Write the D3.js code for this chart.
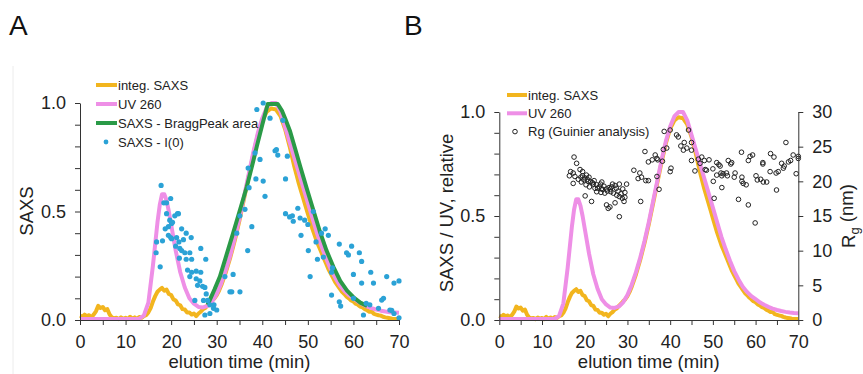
<!DOCTYPE html>
<html>
<head>
<meta charset="utf-8">
<script src="https://cdn.jsdelivr.net/npm/d3@7"></script>
<style>
  body { margin: 0; background: #fff; }
  svg { font-family: "Liberation Sans", Arial, sans-serif; }
  .axis path, .axis line { stroke: #333; stroke-width: 1; }
  .axis text { font-size: 18px; fill: #222; }
</style>
</head>
<body>
<div id="chart"></div>
<script>
// integrated SAXS intensity, [time (min), relative]
const saxsInteg = [
  [0,0.02],[0.5,0.015],[1,0.025],[1.5,0.018],[2,0.022],[2.5,0.012],[3,0.025],[3.5,0.04],[4,0.065],[4.5,0.055],
  [5,0.06],[5.5,0.045],[6,0.05],[6.5,0.025],[7,0.012],[7.5,0.008],[8,0.01],[8.5,0.004],[9,0.012],[9.5,0.006],
  [10,0.01],[10.5,0.004],[11,0.015],[11.5,0.006],[12,0.012],[12.5,0.005],[13,0.014],[13.5,0.01],[14,0.018],[14.5,0.022],
  [15,0.035],[15.5,0.055],[16,0.085],[16.5,0.11],[17,0.13],[17.5,0.14],[18,0.148],[18.5,0.135],[19,0.14],[19.5,0.12],
  [20,0.115],[20.5,0.095],[21,0.09],[21.5,0.072],[22,0.068],[22.5,0.05],[23,0.048],[23.5,0.035],[24,0.035],[24.5,0.025],
  [25,0.03],[25.5,0.018],[26,0.03],[26.5,0.038],[27,0.05],[27.5,0.055],[28,0.068],[28.5,0.078],[29,0.09],[29.5,0.1],
  [30,0.115],[30.5,0.135],[31,0.16],[31.5,0.19],[32,0.22],[32.5,0.255],[33,0.29],[33.5,0.33],[34,0.37],[34.5,0.415],
  [35,0.46],[35.5,0.51],[36,0.56],[36.5,0.61],[37,0.66],[37.5,0.71],[38,0.76],[38.5,0.805],[39,0.85],[39.5,0.885],
  [40,0.92],[40.5,0.94],[41,0.96],[41.5,0.968],[42,0.975],[42.5,0.972],[43,0.97],[43.5,0.955],[44,0.94],[44.5,0.91],
  [45,0.88],[45.5,0.84],[46,0.8],[46.5,0.755],[47,0.71],[47.5,0.67],[48,0.63],[48.5,0.595],[49,0.56],[49.5,0.525],
  [50,0.49],[50.5,0.455],[51,0.42],[51.5,0.39],[52,0.36],[52.5,0.335],[53,0.31],[53.5,0.285],[54,0.26],[54.5,0.235],
  [55,0.215],[55.5,0.195],[56,0.175],[56.5,0.16],[57,0.145],[57.5,0.13],[58,0.12],[58.5,0.108],[59,0.1],[59.5,0.09],
  [60,0.085],[60.5,0.075],[61,0.07],[61.5,0.062],[62,0.058],[62.5,0.05],[63,0.045],[63.5,0.038],[64,0.04],[64.5,0.028],
  [65,0.025],[65.5,0.022],[66,0.02],[66.5,0.015],[67,0.012],[67.5,0.01],[68,0.008],[68.5,0.006],[69,0.005],[70,0.005]
];

// UV absorbance at 260 nm
const uv260 = [
  [0,0.005],[5,0.005],[10,0.005],[13,0.006],[14,0.02],[15,0.08],[16,0.25],[17,0.45],[17.5,0.53],[18,0.58],
  [18.5,0.58],[19,0.55],[19.5,0.5],[20,0.44],[21,0.32],[22,0.22],[23,0.15],[24,0.1],[25,0.075],[26,0.06],
  [27,0.058],[28,0.065],[29,0.085],[30,0.12],[31,0.17],[32,0.23],[33,0.3],[34,0.38],[35,0.47],[36,0.57],
  [37,0.67],[38,0.77],[39,0.86],[40,0.93],[41,0.98],[42,1.0],[43,1.0],[44,0.96],[45,0.89],[46,0.82],
  [47,0.75],[48,0.68],[49,0.61],[50,0.54],[51,0.47],[52,0.4],[53,0.34],[54,0.285],[55,0.235],[56,0.195],
  [57,0.16],[58,0.135],[59,0.115],[60,0.1],[61,0.085],[62,0.073],[63,0.063],[64,0.055],[65,0.048],[66,0.043],
  [67,0.039],[68,0.036],[69,0.034],[70,0.033]
];

// SAXS Bragg peak area
const braggArea = [
  [28,0.07],[29.5,0.14],[30.7,0.2],[32,0.29],[33.6,0.4],[35,0.5],[36.6,0.614],[38,0.73],[38.8,0.8],[40,0.9],
  [41.2,0.995],[43.4,0.995],[44.3,0.965],[45,0.93],[46.1,0.87],[47.2,0.79],[48.3,0.71],[49.7,0.61],[51.2,0.507],
  [52.6,0.41],[54.1,0.32],[55.6,0.245],[57.1,0.18],[58.6,0.135],[60,0.105],[61.5,0.08],[63,0.065]
];

// SAXS I(0)
const saxsI0 = [
  [17.8,0.62],[19.9,0.56],[19.0,0.49],[21.4,0.49],[18.4,0.54],[19.0,0.54],[21.6,0.49],[20.8,0.48],[19.7,0.46],[20.3,0.45],
  [20.1,0.445],[19.4,0.43],[18.7,0.42],[22.3,0.42],[23.3,0.4],[16.8,0.36],[18.1,0.365],[19.4,0.39],[19.9,0.38],[20.1,0.375],
  [21.2,0.38],[21.7,0.36],[22.7,0.37],[24.4,0.38],[21.0,0.34],[21.9,0.33],[22.3,0.32],[23.0,0.31],[24.1,0.31],[16.7,0.31],
  [26.5,0.33],[21.8,0.285],[23.3,0.28],[24.5,0.28],[27.6,0.28],[17.6,0.245],[23.6,0.23],[24.5,0.22],[25.5,0.225],[26.5,0.22],
  [24.1,0.2],[25.5,0.19],[26.3,0.18],[25.8,0.16],[26.9,0.155],[27.4,0.15],[31.8,0.2],[33.6,0.21],[25.2,0.09],[27.1,0.09],
  [27.7,0.12],[28.0,0.09],[28.5,0.07],[29.4,0.07],[29.3,0.054],[30.0,0.046],[27.4,0.023],[28.5,0.03],[32.9,0.13],[33.3,0.13],
  [35.1,0.13],[40.2,1.0],[38.8,0.97],[41.7,0.93],[44.5,0.92],[42.8,0.78],[43.1,0.785],[43.4,0.76],[45.5,0.755],[38.4,0.77],
  [39.5,0.74],[36.9,0.7],[38.6,0.65],[40.2,0.64],[45.1,0.65],[37.1,0.61],[40.6,0.57],[36.2,0.51],[47.8,0.515],[45.1,0.49],
  [46.0,0.475],[46.6,0.48],[46.8,0.455],[48.3,0.47],[49.3,0.46],[50.0,0.44],[35.1,0.48],[34.4,0.4],[37.7,0.43],[48.5,0.39],
  [36.8,0.32],[50.1,0.32],[50.5,0.2],[51.2,0.5],[53.8,0.42],[53.0,0.4],[54.5,0.39],[51.8,0.36],[56.9,0.35],[59.6,0.34],
  [58.5,0.31],[58.9,0.3],[61.3,0.31],[53.4,0.29],[52.1,0.28],[61.8,0.27],[55.4,0.24],[55.2,0.22],[60.0,0.21],[63.8,0.22],
  [61.8,0.17],[64.4,0.17],[67.3,0.2],[68.9,0.17],[70.0,0.18],[55.2,0.115],[56.9,0.084],[57.2,0.064],[60.0,0.1],[62.8,0.077],
  [63.6,0.07],[66.2,0.092],[66.6,0.1],[65.5,0.054],[68.0,0.046],[68.4,0.044],[62.2,0.023],[68.9,0.03],[70.0,0.01]
];

// radius of gyration from Guinier analysis, [time (min), Rg (nm)]
const rgGuinier = [
  [17.5,23.5],[18.1,22.6],[16.7,21.4],[17.3,21.2],[16.4,20.8],[17.7,20.7],[18.9,21.7],[19.5,21.4],[17.3,19.7],[19.1,20.6],
  [19.8,20.2],[20.6,20.3],[21.4,19.95],[20.3,19.5],[21.1,19.2],[22.0,19.6],[22.4,19.0],[22.8,19.5],[23.4,19.2],[23.7,19.6],
  [24.2,18.85],[24.7,18.3],[25.1,18.9],[25.7,19.1],[26.5,19.6],[27.1,19.4],[28.1,19.6],[26.1,18.5],[26.7,18.3],[27.5,18.0],
  [28.1,17.8],[28.8,17.55],[29.4,17.7],[29.2,17.1],[25.1,16.6],[25.5,16.1],[25.9,16.3],[27.1,16.9],[28.1,14.9],[20.1,17.9],
  [21.6,17.1],[29.8,19.6],[22.8,18.5],[23.8,18.4],[19.5,20.8],[20.0,20.5],[20.8,20.0],[21.0,20.6],[21.8,19.8],[22.2,20.1],
  [23.0,19.0],[23.9,18.9],[24.5,19.3],[25.3,18.6],[26.0,18.9],[26.3,19.2],[27.4,19.0],[27.8,18.6],[28.5,18.2],[28.9,18.9],
  [29.4,18.4],[18.5,20.3],[19.2,19.9],[24.0,19.9],[20.4,20.9],
  [31.5,21.6],[32.9,21.2],[33.3,20.6],[32.5,20.4],[34.3,20.1],[34.1,24.3],[34.9,22.8],[33.1,17.1],
  [35.8,23.1],[36.9,23.3],[36.5,23.8],[37.1,23.1],[38.2,22.9],[38.4,24.6],[39.2,24.8],[38.6,27.2],[40.0,27.4],[34.9,20.1],
  [36.9,20.7],[37.4,18.85],[40.2,21.9],[40.0,21.4],[41.5,26.7],[41.9,26.4],[42.5,25.1],[43.3,25.6],[43.1,24.5],[43.9,24.8],
  [44.3,27.4],[45.0,25.6],[45.0,24.5],[45.0,23.0],[46.6,23.2],[47.0,22.6],[47.4,23.5],[48.0,23.0],[49.1,23.1],[48.5,21.6],
  [48.2,21.7],[45.8,21.5],[50.0,21.8],[50.9,22.7],[51.4,22.4],[51.9,21.2],[50.9,20.9],[50.1,20.0],[52.1,19.1],[50.3,17.55],
  [51.7,22.2],[53.6,23.0],[54.2,22.5],[54.4,22.7],[53.2,21.2],[52.4,21.1],[52.1,20.8],[53.4,20.8],[55.2,21.2],[55.0,20.6],
  [56.8,20.6],[56.8,20.0],[57.1,19.7],[57.8,19.5],[56.7,24.2],[56.0,17.4],[58.3,16.6],[58.3,23.0],[58.7,23.6],[59.3,23.8],
  [59.9,14.0],[60.1,20.8],[60.4,20.2],[61.2,20.3],[61.8,19.9],[62.6,19.9],[61.7,22.7],[61.7,22.5],[63.4,21.4],[63.5,24.0],
  [64.3,23.5],[64.9,18.75],[64.8,21.2],[65.3,21.4],[66.1,22.6],[66.7,22.2],[66.5,21.9],[67.1,25.6],[67.7,22.8],[68.2,23.0],
  [68.8,23.8],[69.5,21.1],[70.0,23.6],[70.0,23.3]
];

const xTicks = d3.range(0, 71, 5);
const yTicks = d3.range(0, 11).map(i => i / 10);
const rgTicks = d3.range(0, 31, 5);
const legendA = ["integ. SAXS", "UV 260", "SAXS - BraggPeak area", "SAXS - I(0)"];
const legendB = ["integ. SAXS", "UV 260", "Rg (Guinier analysis)"];

const COL = { saxs: "#f2b51e", uv: "#ee8fe6", bragg: "#2a9a47", i0: "#2ba2d6", rg: "#222" };

const width = 863, height = 374;
const svg = d3.select("#chart").append("svg").attr("width", width).attr("height", height);

// faint frame line at the left of panel A
svg.append("line").attr("x1", 13).attr("x2", 13).attr("y1", 66).attr("y2", height)
  .attr("stroke", "#ececec").attr("stroke-width", 1);

function yFormat(d) { return (Math.abs(d * 10 % 5) < 1e-6) ? d3.format(".1f")(d) : ""; }
function xFormat(d) { return d % 10 === 0 ? d : ""; }

function drawAxes(x, y) {
  svg.append("g").attr("class", "axis").attr("transform", `translate(0,${y(0)})`)
    .call(d3.axisBottom(x).tickValues(xTicks).tickFormat(xFormat).tickSize(5).tickSizeOuter(0).tickPadding(10));
  svg.append("g").attr("class", "axis").attr("transform", `translate(${x(0)},0)`)
    .call(d3.axisLeft(y).tickValues(yTicks).tickFormat(yFormat).tickSize(5).tickSizeOuter(0).tickPadding(9));
  svg.append("text").attr("x", (x(0) + x(70)) / 2).attr("y", 368).attr("text-anchor", "middle")
    .style("font-size", "18.5px").attr("fill", "#222").text("elution time (min)");
}

function drawLine(data, x, y, color, w) {
  const line = d3.line().x(d => x(d[0])).y(d => y(d[1])).curve(d3.curveLinear);
  svg.append("path").datum(data).attr("d", line).attr("fill", "none")
    .attr("stroke", color).attr("stroke-width", w).attr("stroke-linejoin", "round");
}

// ---------- panel A ----------
const xA = d3.scaleLinear().domain([0, 70]).range([80, 399]);
const yA = d3.scaleLinear().domain([0, 1]).range([320, 103]);

drawLine(saxsInteg, xA, yA, COL.saxs, 4);
drawLine(uv260, xA, yA, COL.uv, 4);
drawLine(braggArea, xA, yA, COL.bragg, 4);
svg.append("g").selectAll("circle").data(saxsI0).join("circle")
  .attr("cx", d => xA(d[0])).attr("cy", d => yA(d[1])).attr("r", 2.6).attr("fill", COL.i0);
drawAxes(xA, yA);

svg.append("text").attr("transform", "translate(33,211) rotate(-90)").attr("text-anchor", "middle")
  .style("font-size", "18.5px").attr("fill", "#222").text("SAXS");

const legA = svg.append("g").selectAll("g").data(legendA).join("g")
  .attr("transform", (d, i) => `translate(96,${85 + i * 19})`);
legA.each(function (d, i) {
  const g = d3.select(this);
  if (i < 3) {
    g.append("line").attr("x1", 0).attr("x2", 21).attr("stroke-width", 4)
      .attr("stroke", [COL.saxs, COL.uv, COL.bragg][i]);
  } else {
    g.append("circle").attr("cx", 10).attr("r", 2.4).attr("fill", COL.i0);
  }
  g.append("text").attr("x", 22).attr("dy", "0.36em").style("font-size", "13px").attr("fill", "#222").text(d);
});

svg.append("text").attr("x", 9).attr("y", 35).style("font-size", "28px").attr("fill", "#111").text("A");
svg.append("text").attr("x", 404).attr("y", 35).style("font-size", "28px").attr("fill", "#111").text("B");

// ---------- panel B ----------
const xB = d3.scaleLinear().domain([0, 70]).range([499.3, 798.3]);
const yB = d3.scaleLinear().domain([0, 1]).range([320, 112]);
const yR = d3.scaleLinear().domain([0, 30]).range([320, 112]);

drawLine(saxsInteg, xB, yB, COL.saxs, 4);
drawLine(uv260, xB, yB, COL.uv, 4);
svg.append("g").selectAll("circle").data(rgGuinier).join("circle")
  .attr("cx", d => xB(d[0])).attr("cy", d => yR(d[1])).attr("r", 2.3)
  .attr("fill", "none").attr("stroke", COL.rg).attr("stroke-width", 1);
drawAxes(xB, yB);
svg.append("g").attr("class", "axis").attr("transform", `translate(${xB(70)},0)`)
  .call(d3.axisRight(yR).tickValues(rgTicks).tickSize(5).tickSizeOuter(0).tickPadding(9));

svg.append("text").attr("transform", "translate(453,213) rotate(-90)").attr("text-anchor", "middle")
  .style("font-size", "18.5px").attr("fill", "#222").text("SAXS / UV, relative");

const rgTitle = svg.append("text").attr("transform", "translate(855,216) rotate(-90)").attr("text-anchor", "middle")
  .style("font-size", "18.5px").attr("fill", "#222");
rgTitle.append("tspan").text("R");
rgTitle.append("tspan").attr("dy", "0.3em").style("font-size", "13px").text("g");
rgTitle.append("tspan").attr("dy", "-0.3em").text(" (nm)");

const legB = svg.append("g").selectAll("g").data(legendB).join("g")
  .attr("transform", (d, i) => `translate(507,${95 + i * 18.3})`);
legB.each(function (d, i) {
  const g = d3.select(this);
  if (i < 2) {
    g.append("line").attr("x1", 0).attr("x2", 20).attr("stroke-width", 4)
      .attr("stroke", [COL.saxs, COL.uv][i]);
  } else {
    g.append("circle").attr("cx", 8).attr("r", 2.3).attr("fill", "none")
      .attr("stroke", COL.rg).attr("stroke-width", 1);
  }
  g.append("text").attr("x", 21).attr("dy", "0.36em").style("font-size", "13px").attr("fill", "#222").text(d);
});
</script>
</body>
</html>
